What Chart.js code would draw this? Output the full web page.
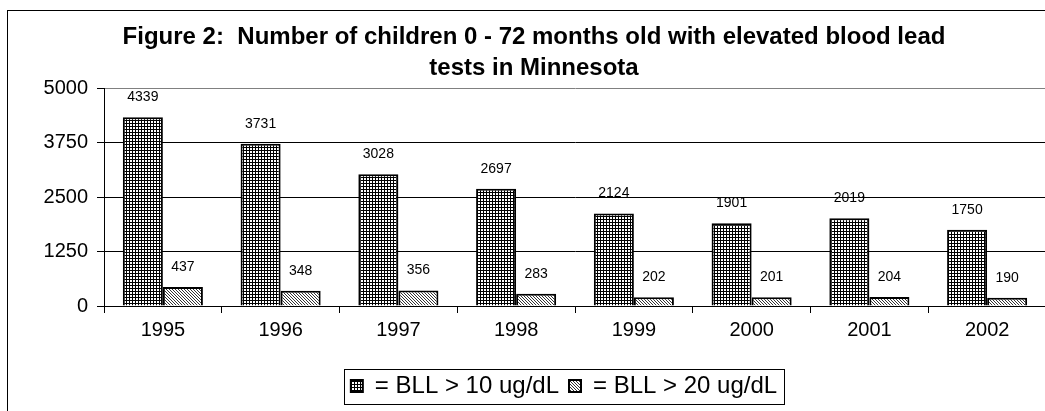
<!DOCTYPE html>
<html lang="en">
<head>
  <meta charset="UTF-8">
  <title>Figure 2: Elevated blood lead tests in Minnesota</title>
  <script src="https://cdn.jsdelivr.net/npm/chart.js"></script>
  <style>
    body {
      margin: 0;
      overflow: hidden;
      background: #fff;
      font-family: Arial, "Liberation Sans", sans-serif;
    }
    .frame {
      position: absolute;
      left: 7px;
      top: 10px;
      width: 1100px;
      height: 500px;
      border: 1px solid #000;
    }
    #barChart {
      position: absolute;
      left: 0;
      top: 0;
    }
  </style>
</head>
<body>
  <div class="frame"></div>
  <canvas id="barChart" width="1060" height="411"></canvas>

  <script>
    const years = ['1995', '1996', '1997', '1998', '1999', '2000', '2001', '2002'];
    const bllOver10 = [4339, 3731, 3028, 2697, 2124, 1901, 2019, 1750];
    const bllOver20 = [437, 348, 356, 283, 202, 201, 204, 190];
    const yTicks = [0, 1250, 2500, 3750, 5000];

    const FONT = 'Arial, "Liberation Sans", sans-serif';

    const makePattern = (kind) => {
      const tile = document.createElement('canvas');
      tile.width = 3;
      tile.height = 3;
      const t = tile.getContext('2d');
      t.fillStyle = '#fff';
      t.fillRect(0, 0, 3, 3);
      t.fillStyle = '#000';
      if (kind === 'grid') {
        t.fillRect(0, 0, 3, 1);
        t.fillRect(0, 0, 1, 3);
      } else {
        t.fillStyle = '#333';
        t.fillRect(0, 0, 1, 1);
        t.fillRect(1, 1, 1, 1);
        t.fillRect(2, 2, 1, 1);
      }
      return t.createPattern(tile, 'repeat');
    };

    const ctx = document.getElementById('barChart').getContext('2d');

    // values written above each bar
    const valueLabels = {
      id: 'valueLabels',
      afterDatasetsDraw(chart) {
        const c = chart.ctx;
        c.save();
        c.font = '14px ' + FONT;
        c.fillStyle = '#000';
        c.textAlign = 'center';
        c.textBaseline = 'middle';
        chart.data.datasets.forEach((ds, i) => {
          chart.getDatasetMeta(i).data.forEach((bar, j) => {
            c.fillText(ds.data[j], bar.x, bar.y - 20);
          });
        });
        c.restore();
      }
    };

    // nudge title / legend sideways like the original, and box the legend
    const legendBox = {
      id: 'legendBox',
      afterLayout(chart) {
        const lg = chart.legend;
        lg.left += 37;
        lg.right += 37;
        chart.titleBlock.left += 7;
        chart.titleBlock.right += 7;
      },
      afterDraw(chart) {
        const lg = chart.legend;
        const pad = lg.options.labels.padding;
        const size = lg.options.labels.font.size;
        const w = lg.lineWidths[0];
        const x0 = (lg.left + pad + lg.right - w) / 2;
        const yMid = lg.top + pad + size / 2;
        const c = chart.ctx;
        c.save();
        c.strokeStyle = '#000';
        c.lineWidth = 1;
        c.strokeRect(Math.round(x0 - 7) + 0.5, Math.round(yMid - 17) + 0.5, Math.round(w - pad + 14), 35);
        c.restore();
      }
    };

    new Chart(ctx, {
      type: 'bar',
      data: {
        labels: years,
        datasets: [
          {
            label: '= BLL > 10 ug/dL',
            data: bllOver10,
            backgroundColor: makePattern('grid'),
            borderColor: '#000',
            borderWidth: 2,
            barPercentage: 1,
            categoryPercentage: 0.68
          },
          {
            label: '= BLL > 20 ug/dL',
            data: bllOver20,
            backgroundColor: makePattern('diag'),
            borderColor: '#000',
            borderWidth: 2,
            barPercentage: 1,
            categoryPercentage: 0.68
          }
        ]
      },
      options: {
        responsive: false,
        animation: false,
        layout: { padding: { left: 8, right: 14, top: 12, bottom: 3 } },
        plugins: {
          title: {
            display: true,
            text: ['Figure 2:  Number of children 0 - 72 months old with elevated blood lead', 'tests in Minnesota'],
            color: '#000',
            font: { family: FONT, size: 24, weight: 'bold', lineHeight: 1.28 },
            padding: { top: 10, bottom: 5 }
          },
          legend: {
            position: 'bottom',
            labels: {
              color: '#000',
              boxWidth: 12,
              boxHeight: 12,
              padding: 10,
              font: { family: FONT, size: 24 }
            }
          },
          tooltip: { enabled: false }
        },
        scales: {
          x: {
            offset: true,
            afterFit: (scale) => { scale.height = 58; },
            grid: {
              offset: true,
              drawOnChartArea: false,
              tickLength: 7,
              color: '#000'
            },
            border: { color: '#000', width: 1 },
            ticks: {
              color: '#000',
              padding: 5,
              font: { family: FONT, size: 20 }
            }
          },
          y: {
            min: 0,
            max: 5000,
            afterFit: (scale) => { scale.width = 96; },
            afterBuildTicks: (scale) => { scale.ticks = yTicks.map(v => ({ value: v })); },
            grid: {
              tickLength: 7,
              color: (c) => c.tick && c.tick.value === 5000 ? '#808080' : '#000',
              tickColor: '#000'
            },
            border: { color: '#000', width: 1 },
            ticks: {
              color: '#000',
              padding: 9,
              font: { family: FONT, size: 20 },
              callback: (v) => String(v)
            }
          }
        }
      },
      plugins: [valueLabels, legendBox]
    });
  </script>
</body>
</html>
